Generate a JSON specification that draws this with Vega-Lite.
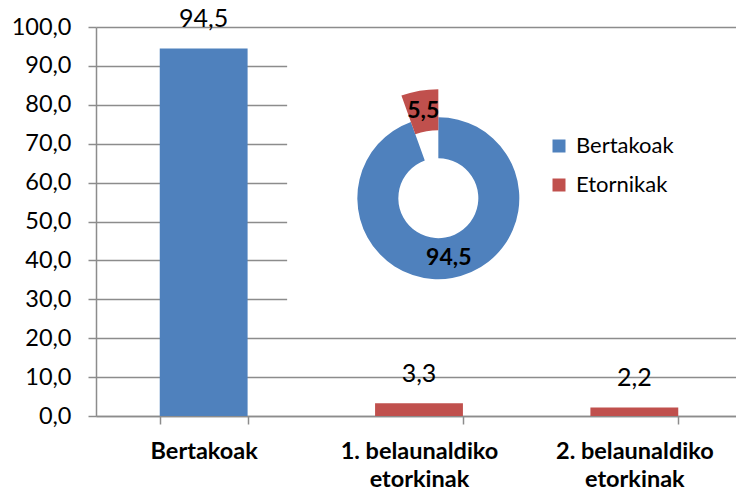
{
  "$schema": "https://vega.github.io/schema/vega-lite/v6.json",
  "width": 646,
  "height": 389,
  "autosize": {"type": "none"},
  "padding": {"left": 96, "top": 27, "right": 0, "bottom": 76},
  "background": "white",
  "config": {
    "locale": {"number": {"decimal": ",", "thousands": ".", "grouping": [3], "currency": ["", " €"]}},
    "font": "Lato",
    "view": {"stroke": null},
    "axisY": {
      "title": null, "format": ".1f", "tickCount": 20,
      "labelFontSize": 23.5, "labelColor": "#000000", "labelPadding": 17, "labelOverlap": false,
      "grid": true, "gridColor": "#8c8c8c", "gridWidth": 1.5,
      "tickSize": 8, "tickColor": "#8c8c8c", "tickWidth": 1.5,
      "domainColor": "#8c8c8c", "domainWidth": 1.5
    }
  },
  "datasets": {
    "bars": [
      {"kategoria": "Bertakoak", "taldea": "Bertakoak", "balioa": 94.5},
      {"kategoria": "1. belaunaldiko etorkinak", "taldea": "Etornikak", "balioa": 3.3},
      {"kategoria": "2. belaunaldiko etorkinak", "taldea": "Etornikak", "balioa": 2.2}
    ],
    "donut": [
      {"taldea": "Bertakoak", "balioa": 94.5},
      {"taldea": "Etornikak", "balioa": 5.5}
    ]
  },
  "layer": [
    {
      "data": {"name": "bars"},
      "mark": {"type": "bar"},
      "encoding": {
        "x": {
          "field": "kategoria", "type": "nominal", "sort": null,
          "scale": {"paddingInner": 0.592, "paddingOuter": 0.296},
          "axis": {
            "title": null, "labelAngle": 0, "labelFontSize": 23.5, "labelFontWeight": "bold",
            "labelColor": "#000000", "labelPadding": 15, "labelLineHeight": 28,
            "tickBand": "extent", "tickSize": 8, "tickColor": "#8c8c8c", "tickWidth": 1.5,
            "domainColor": "#8c8c8c", "domainWidth": 1.5,
            "labelExpr": "indexof(datum.label, ' etorkinak') > 0 ? [replace(datum.label, ' etorkinak', ''), 'etorkinak'] : datum.label"
          }
        },
        "y": {
          "field": "balioa", "type": "quantitative", "stack": null,
          "scale": {"domain": [0, 100], "nice": false},
          "axis": {"values": [0, 10, 20, 30, 40, 50, 60, 70, 80, 90, 100], "tickCount": 20, "format": ".1f", "title": null}
        },
        "color": {
          "field": "taldea", "type": "nominal",
          "scale": {"domain": ["Bertakoak", "Etornikak"], "range": ["#4F81BD", "#C0504D"]},
          "legend": {
            "title": null, "orient": "none", "legendX": 452, "legendY": 108,
            "symbolType": "square", "symbolSize": 169, "symbolStrokeWidth": 0,
            "labelFontSize": 22, "labelColor": "#000000", "labelOffset": 6,
            "rowPadding": 17, "padding": 0
          }
        }
      }
    },
    {
      "data": {"name": "bars"},
      "mark": {"type": "text", "fontSize": 25, "color": "#000000", "dy": -29},
      "encoding": {
        "x": {"field": "kategoria", "type": "nominal", "sort": null},
        "y": {"field": "balioa", "type": "quantitative", "stack": null},
        "text": {"field": "balioa", "type": "quantitative", "format": ".1f"}
      }
    },
    {
      "data": {"values": [{"kutxa": "donut"}]},
      "mark": {"type": "rect", "color": "white"},
      "encoding": {
        "x": {"datum": "Bertakoak", "type": "nominal", "bandPosition": 1.45},
        "x2": {"datum": "2. belaunaldiko etorkinak", "bandPosition": 1.8},
        "y": {"datum": 25, "type": "quantitative"},
        "y2": {"datum": 97}
      }
    },
    {
      "data": {"name": "donut"},
      "transform": [
        {"stack": "balioa", "groupby": [], "sort": [{"field": "taldea", "order": "ascending"}], "as": ["t0", "t1"]},
        {"filter": "datum.taldea === 'Bertakoak'"}
      ],
      "mark": {"type": "arc", "radius": 81, "radius2": 40},
      "encoding": {
        "x": {"datum": "1. belaunaldiko etorkinak", "type": "nominal", "bandPosition": 0.72},
        "y": {"datum": 56, "type": "quantitative"},
        "theta": {"field": "t0", "type": "quantitative", "scale": {"domain": [0, 100]}},
        "theta2": {"field": "t1"},
        "color": {"field": "taldea", "type": "nominal"}
      }
    },
    {
      "data": {"name": "donut"},
      "transform": [
        {"stack": "balioa", "groupby": [], "sort": [{"field": "taldea", "order": "ascending"}], "as": ["t0", "t1"]},
        {"filter": "datum.taldea === 'Etornikak'"}
      ],
      "mark": {"type": "arc", "radius": 109, "radius2": 68},
      "encoding": {
        "x": {"datum": "1. belaunaldiko etorkinak", "type": "nominal", "bandPosition": 0.72},
        "y": {"datum": 56, "type": "quantitative"},
        "theta": {"field": "t0", "type": "quantitative", "scale": {"domain": [0, 100]}},
        "theta2": {"field": "t1"},
        "color": {"field": "taldea", "type": "nominal"}
      }
    },
    {
      "data": {"name": "donut"},
      "transform": [
        {"stack": "balioa", "groupby": [], "sort": [{"field": "taldea", "order": "ascending"}], "as": ["t0", "t1"]},
        {"calculate": "(datum.t0 + datum.t1) / 2", "as": "tmid"},
        {"filter": "datum.taldea === 'Bertakoak'"}
      ],
      "mark": {"type": "text", "fontSize": 23, "fontWeight": "bold", "color": "#000000", "radius": 61},
      "encoding": {
        "x": {"datum": "1. belaunaldiko etorkinak", "type": "nominal", "bandPosition": 0.72},
        "y": {"datum": 56, "type": "quantitative"},
        "theta": {"field": "tmid", "type": "quantitative", "scale": {"domain": [0, 100]}},
        "text": {"field": "balioa", "type": "quantitative", "format": ".1f"}
      }
    },
    {
      "data": {"name": "donut"},
      "transform": [
        {"stack": "balioa", "groupby": [], "sort": [{"field": "taldea", "order": "ascending"}], "as": ["t0", "t1"]},
        {"calculate": "(datum.t0 + datum.t1) / 2", "as": "tmid"},
        {"filter": "datum.taldea === 'Etornikak'"}
      ],
      "mark": {"type": "text", "fontSize": 23, "fontWeight": "bold", "color": "#000000", "radius": 88},
      "encoding": {
        "x": {"datum": "1. belaunaldiko etorkinak", "type": "nominal", "bandPosition": 0.72},
        "y": {"datum": 56, "type": "quantitative"},
        "theta": {"field": "tmid", "type": "quantitative", "scale": {"domain": [0, 100]}},
        "text": {"field": "balioa", "type": "quantitative", "format": ".1f"}
      }
    }
  ]
}
